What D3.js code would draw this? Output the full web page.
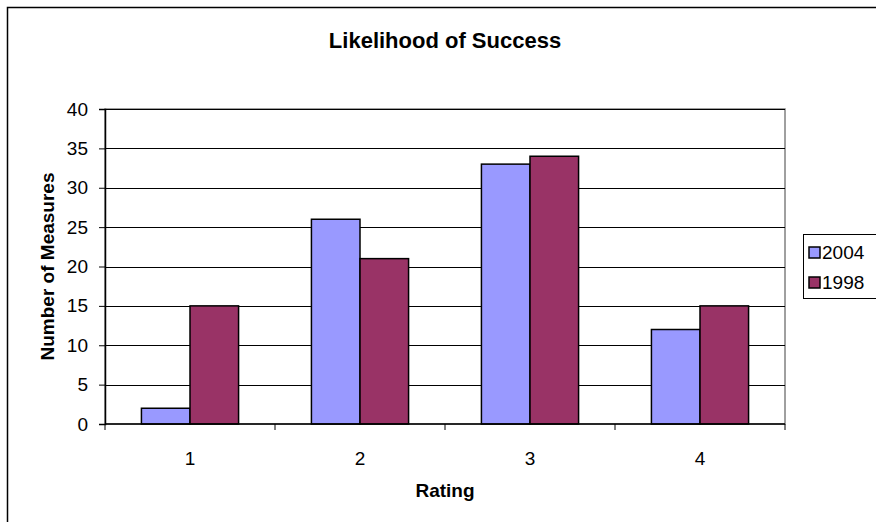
<!DOCTYPE html>
<html>
<head>
<meta charset="utf-8">
<script src="https://cdn.jsdelivr.net/npm/d3@7"></script>
<style>
  body { margin: 0; background: #fff; }
  svg { display: block; font-family: Arial, "Liberation Sans", sans-serif; }
</style>
</head>
<body>
<div id="chart"></div>
<script>
// data
const ratings = ["1", "2", "3", "4"];
const seriesNames = ["2004", "1998"];
const values2004 = [2, 26, 33, 12];
const values1998 = [15, 21, 34, 15];
const yTicks = [0, 5, 10, 15, 20, 25, 30, 35, 40];
const colors = ["#9999FF", "#993366"];

const width = 876, height = 522;
const plot = { left: 105, right: 785, top: 109, bottom: 424 };
const fontFam = "Arial, 'Liberation Sans', sans-serif";

const svg = d3.select("#chart").append("svg")
    .attr("width", width)
    .attr("height", height);

// chart area border (right/bottom edges fall outside the window)
svg.append("rect")
    .attr("x", 7.5).attr("y", 7.5)
    .attr("width", 900).attr("height", 600)
    .attr("fill", "#fff")
    .attr("stroke", "#000")
    .attr("stroke-width", 1.5);

const x0 = d3.scaleBand()
    .domain(ratings)
    .range([plot.left, plot.right]);

// Excel gap width 150% -> bar pair takes 2/3.5 of each category
const groupW = x0.bandwidth() * 2 / 3.5;
const x1 = d3.scaleBand()
    .domain(seriesNames)
    .range([0, groupW]);

const y = d3.scaleLinear().domain([0, 40]).range([plot.bottom, plot.top]);

// plot area frame
svg.append("rect")
    .attr("x", plot.left).attr("y", plot.top)
    .attr("width", plot.right - plot.left).attr("height", plot.bottom - plot.top)
    .attr("fill", "#fff")
    .attr("stroke", "#808080")
    .attr("stroke-width", 1.5);

// gridlines
svg.append("g")
    .selectAll("line")
    .data(yTicks.filter(d => d > 0))
    .enter().append("line")
    .attr("x1", plot.left).attr("x2", plot.right)
    .attr("y1", d => Math.round(y(d)) + 0.5)
    .attr("y2", d => Math.round(y(d)) + 0.5)
    .attr("stroke", "#000")
    .attr("stroke-width", 1);

// bars
const rows = ratings.map((r, i) => ({ rating: r, vals: [values2004[i], values1998[i]] }));
const groups = svg.append("g")
    .selectAll("g")
    .data(rows)
    .enter().append("g")
    .attr("transform", d => "translate(" + (x0(d.rating) + (x0.bandwidth() - groupW) / 2) + ",0)");

groups.selectAll("rect")
    .data(d => d.vals.map((v, j) => ({ name: seriesNames[j], v: v, j: j })))
    .enter().append("rect")
    .attr("x", d => x1(d.name))
    .attr("width", x1.bandwidth())
    .attr("y", d => y(d.v))
    .attr("height", d => y(0) - y(d.v))
    .attr("fill", d => colors[d.j])
    .attr("stroke", "#000")
    .attr("stroke-width", 1.5);

// y axis
const yAxis = svg.append("g")
    .attr("transform", "translate(" + plot.left + ",0)")
    .call(d3.axisLeft(y).tickValues(yTicks).tickSize(6).tickPadding(11));
yAxis.attr("font-size", null).attr("font-family", null);
yAxis.select(".domain").attr("stroke", "#000").attr("stroke-width", 1.5);
yAxis.selectAll(".tick line").attr("stroke", "#000");
yAxis.selectAll("text")
    .style("font-size", "19px")
    .style("font-family", fontFam)
    .attr("fill", "#000");

// x axis: ticks at category boundaries, labels centred
const xAxis = svg.append("g")
    .attr("transform", "translate(0," + plot.bottom + ")");
xAxis.append("line")
    .attr("x1", plot.left).attr("x2", plot.right)
    .attr("stroke", "#000").attr("stroke-width", 1.5);
xAxis.selectAll("line.tick")
    .data(ratings.concat(["end"]))
    .enter().append("line")
    .attr("class", "tick")
    .attr("x1", (d, i) => plot.left + i * x0.bandwidth())
    .attr("x2", (d, i) => plot.left + i * x0.bandwidth())
    .attr("y1", 0).attr("y2", 6)
    .attr("stroke", "#000");
xAxis.selectAll("text")
    .data(ratings)
    .enter().append("text")
    .attr("x", d => x0(d) + x0.bandwidth() / 2)
    .attr("y", 41)
    .attr("text-anchor", "middle")
    .style("font-size", "19px")
    .text(d => d);

// titles
svg.append("text")
    .attr("x", 445).attr("y", 48)
    .attr("text-anchor", "middle")
    .style("font-size", "22px")
    .attr("font-weight", "bold")
    .text("Likelihood of Success");

svg.append("text")
    .attr("x", 445).attr("y", 497)
    .attr("text-anchor", "middle")
    .style("font-size", "19px")
    .attr("font-weight", "bold")
    .text("Rating");

svg.append("text")
    .attr("transform", "translate(54," + (plot.top + plot.bottom) / 2 + ") rotate(-90)")
    .attr("text-anchor", "middle")
    .style("font-size", "19px")
    .attr("font-weight", "bold")
    .text("Number of Measures");

// legend
const legend = svg.append("g").attr("transform", "translate(803,234)");
legend.append("rect")
    .attr("x", 0.5).attr("y", 0.5)
    .attr("width", 100).attr("height", 64)
    .attr("fill", "#fff")
    .attr("stroke", "#000");
const items = legend.selectAll("g.item")
    .data(seriesNames)
    .enter().append("g")
    .attr("class", "item")
    .attr("transform", (d, i) => "translate(6," + (18 + i * 30) + ")");
items.append("rect")
    .attr("x", 0).attr("y", -5)
    .attr("width", 11).attr("height", 11)
    .attr("fill", (d, i) => colors[i])
    .attr("stroke", "#000")
    .attr("stroke-width", 1.5);
items.append("text")
    .attr("x", 13).attr("y", 7)
    .style("font-size", "19px")
    .text(d => d);
</script>
</body>
</html>
